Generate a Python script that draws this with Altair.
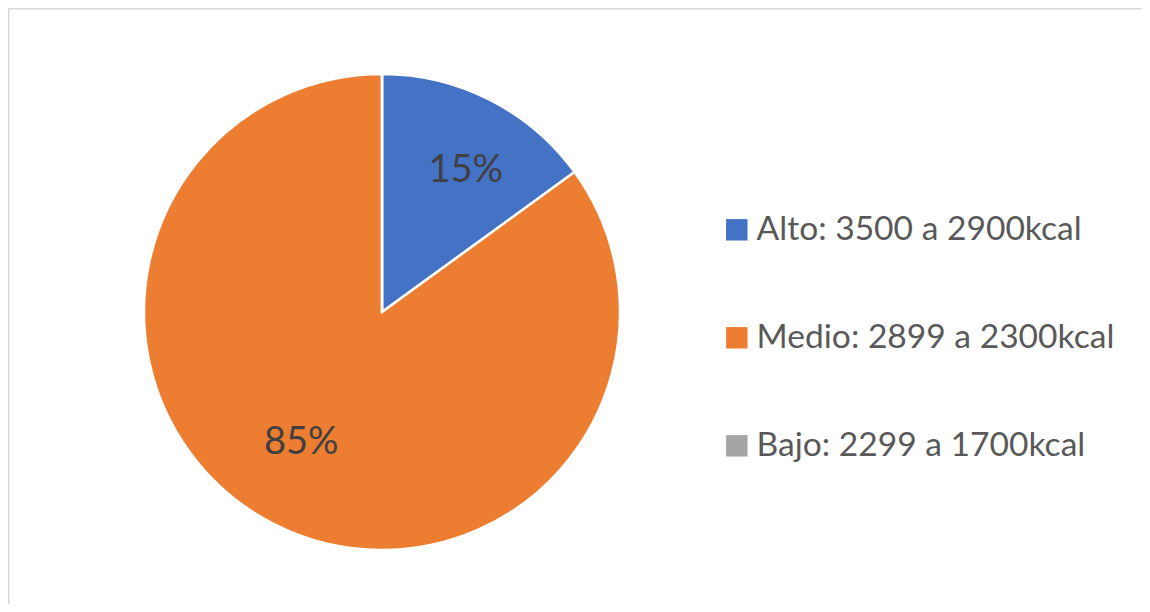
import altair as alt
import pandas as pd

categories = ["Alto: 3500 a 2900kcal", "Medio: 2899 a 2300kcal", "Bajo: 2299 a 1700kcal"]
values = [15, 85, 0]
labels = ["15%", "85%", ""]
colors = ["#4472C4", "#ED7D31", "#A5A5A5"]

df = pd.DataFrame({"cat": categories, "value": values, "label": labels, "order": [0, 1, 2]})

W, H = 1134, 596
CX, CY = 374, 304

color = alt.Color(
    "cat:N",
    scale=alt.Scale(domain=categories, range=colors),
    sort=categories,
    legend=alt.Legend(
        title=None,
        orient="none",
        legendX=712,
        legendY=205,
        symbolType="square",
        symbolSize=460,
        symbolStrokeWidth=0,
        labelFontSize=33.6,
        labelFont="Lato",
        labelColor="#595959",
        labelOffset=3,
        rowPadding=73,
        padding=0,
        labelLimit=500,
    ),
)

theta = alt.Theta("value:Q", stack=True)

pie = alt.Chart(df).mark_arc(radius=238, stroke="white", strokeWidth=2.5).encode(
    theta=theta,
    color=color,
    order=alt.Order("order:Q"),
    x=alt.value(CX),
    y=alt.value(CY),
)

def label_layer(name, dx, dy):
    return alt.Chart(df).mark_text(
        radius=158, font="Lato", fontSize=38, color="#404040", dx=dx, dy=dy
    ).encode(
        theta=theta,
        text="label:N",
        order=alt.Order("order:Q"),
        x=alt.value(CX),
        y=alt.value(CY),
        opacity=alt.condition(alt.datum.cat == name, alt.value(1), alt.value(0)),
    )

text_alto = label_layer(categories[0], 12, 0)
text_medio = label_layer(categories[1], -9, -10)

border_df = pd.DataFrame({"k": [0]})
frame = alt.Chart(border_df).mark_rect(
    fill="transparent", stroke="#d9d9d9", strokeWidth=2
).encode(
    x=alt.value(0.5), x2=alt.value(W + 40), y=alt.value(0.5), y2=alt.value(H + 40)
)

chart = alt.layer(pie, text_alto, text_medio, frame).properties(
    width=W,
    height=H,
    autosize=alt.AutoSizeParams(type="none"),
    padding=0,
).configure_view(strokeWidth=0, stroke="transparent").configure(background="white")

chart.save("out.html", embed_options={"renderer": "svg", "actions": False})
